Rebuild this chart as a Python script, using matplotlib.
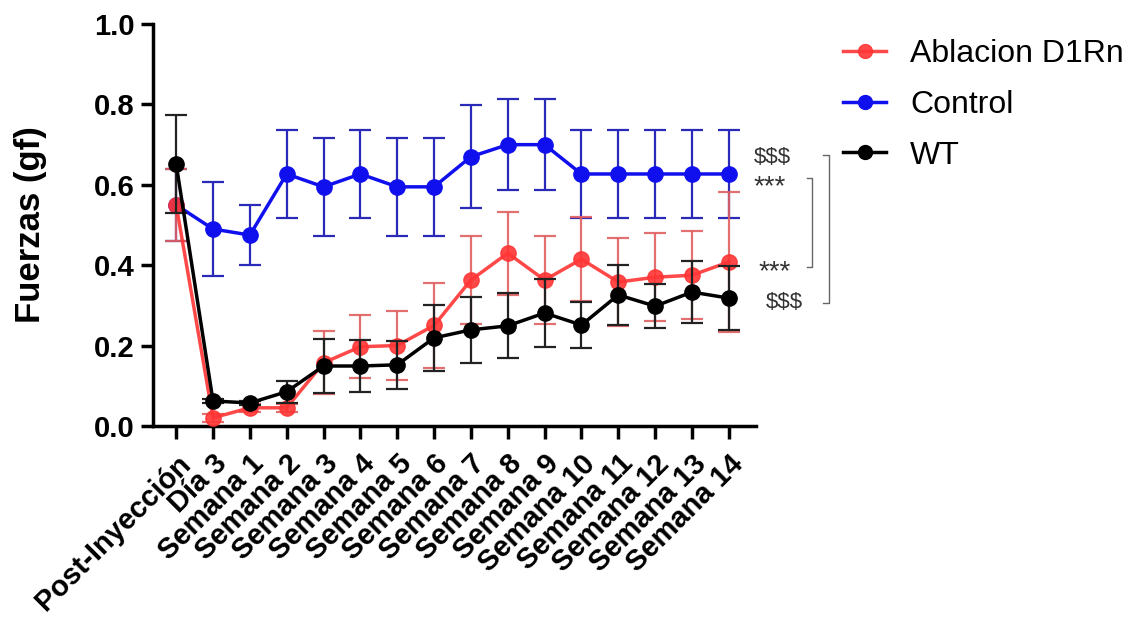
import numpy as np
import matplotlib
matplotlib.use("Agg")
import matplotlib.pyplot as plt
from matplotlib.lines import Line2D

plt.rcParams['font.family'] = ['Liberation Sans', 'DejaVu Sans']

# Categories
labels = ["Post-Inyección", "Día 3", "Semana 1", "Semana 2", "Semana 3", "Semana 4",
          "Semana 5", "Semana 6", "Semana 7", "Semana 8", "Semana 9", "Semana 10",
          "Semana 11", "Semana 12", "Semana 13", "Semana 14"]

# Control (blue)
ctrl_mean = [0.55, 0.49, 0.475, 0.627, 0.595, 0.627, 0.595, 0.595, 0.67, 0.70, 0.70,
             0.627, 0.627, 0.627, 0.627, 0.627]
ctrl_err = [0.09, 0.117, 0.075, 0.11, 0.122, 0.11, 0.122, 0.122, 0.128, 0.113, 0.113,
            0.109, 0.109, 0.109, 0.109, 0.109]

# Ablacion D1Rn (red)
abl_mean = [0.55, 0.02, 0.045, 0.045, 0.157, 0.197, 0.20, 0.25, 0.363, 0.43, 0.363,
            0.415, 0.358, 0.37, 0.375, 0.408]
abl_err = [0.09, 0.01, 0.01, 0.01, 0.078, 0.079, 0.086, 0.106, 0.11, 0.103, 0.11,
           0.105, 0.11, 0.11, 0.11, 0.175]

# WT (black)
wt_mean = [0.652, 0.062, 0.057, 0.085, 0.149, 0.149, 0.152, 0.219, 0.239, 0.249, 0.281,
           0.251, 0.326, 0.298, 0.333, 0.318]
wt_err = [0.122, 0.005, 0.005, 0.027, 0.067, 0.064, 0.06, 0.082, 0.083, 0.081, 0.084,
          0.058, 0.075, 0.055, 0.078, 0.08]

x = np.arange(len(labels))

fig = plt.figure(figsize=(11.33, 6.19), dpi=100)
ax = fig.add_axes([0.135, 0.312, 0.532, 0.649])

common = dict(marker='o', markersize=11, lw=2.5, elinewidth=1.6, capsize=8, capthick=1.6)
ax.errorbar(x, ctrl_mean, yerr=ctrl_err, color='#1010ee', ecolor='#2a2ab8',
            zorder=2, **common)
ax.errorbar(x, wt_mean, yerr=wt_err, color='black', ecolor='#222222',
            zorder=4, **common)
ax.errorbar(x, abl_mean, yerr=abl_err, color='#ff3535', ecolor='#e06060',
            zorder=3, alpha=0.9, **common)

ax.set_xlim(-0.63, 15.73)
ax.set_ylim(0, 1.0)
ax.set_yticks([0.0, 0.2, 0.4, 0.6, 0.8, 1.0])
ax.set_yticklabels(["0.0", "0.2", "0.4", "0.6", "0.8", "1.0"], fontsize=21, fontweight='bold')
ax.set_xticks(x)
ax.set_xticklabels(labels, rotation=45, ha='right', va='top', rotation_mode='anchor',
                   fontsize=21, fontweight='bold')
ax.set_ylabel("Fuerzas (gf)", fontsize=25, fontweight='bold', labelpad=34)

for s in ['top', 'right']:
    ax.spines[s].set_visible(False)
for s in ['left', 'bottom']:
    ax.spines[s].set_linewidth(2.5)
ax.tick_params(axis='both', width=2.5, length=9, direction='out')
ax.tick_params(axis='x', pad=8)
ax.tick_params(axis='y', pad=4)

# Legend
handles = [
    Line2D([], [], color='#ff3535', marker='o', markersize=10, lw=2.5, alpha=0.9),
    Line2D([], [], color='#1010ee', marker='o', markersize=10, lw=2.5),
    Line2D([], [], color='black', marker='o', markersize=10, lw=2.5),
]
fig.legend(handles, ['Ablacion D1Rn', 'Control', 'WT'],
           loc='upper left', bbox_to_anchor=(0.744, 0.937), frameon=False,
           fontsize=23, handlelength=1.35, labelspacing=0.65, handletextpad=0.75,
           borderpad=0, borderaxespad=0)

# Significance annotations
ann = dict(fontsize=16, va='center', ha='left', color='#333333', clip_on=False)
star = dict(fontsize=20, va='center', ha='left', color='#333333', clip_on=False)
ax.text(15.68, 0.669, r"\$\$\$", **ann)
ax.text(15.66, 0.595, "***", **star)
ax.text(15.80, 0.383, "***", **star)
ax.text(16.0, 0.306, r"\$\$\$", **ann)

ax.plot([17.12, 17.26, 17.26, 17.12], [0.617, 0.617, 0.396, 0.396], color='#666666',
        lw=1, clip_on=False)
ax.plot([17.55, 17.72, 17.72, 17.55], [0.674, 0.674, 0.306, 0.306], color='#666666',
        lw=1, clip_on=False)

fig.savefig("out.png", dpi=100)
